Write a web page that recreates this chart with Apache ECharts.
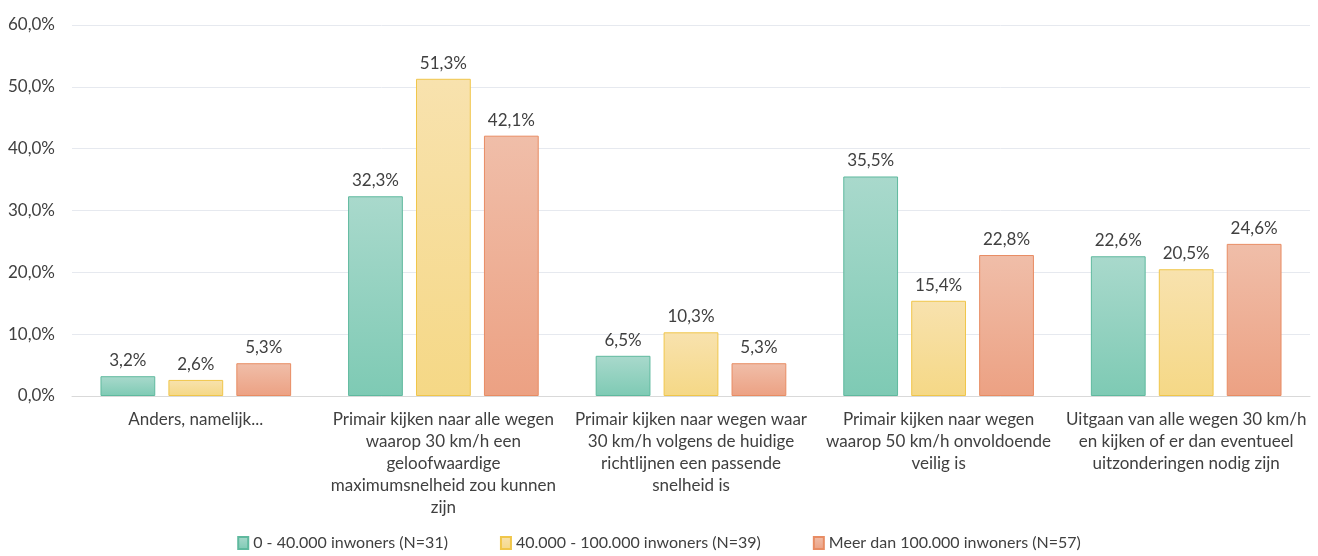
<!DOCTYPE html>
<html>
<head>
<meta charset="utf-8">
<script src="https://cdn.jsdelivr.net/npm/echarts@6/dist/echarts.min.js"></script>
<style>
html, body { margin: 0; padding: 0; background: #fff; }
#chart { width: 1318px; height: 556px; }
</style>
</head>
<body>
<div id="chart"></div>
<script>
// categorieen (met handmatige regelafbreking zoals in het origineel)
var categories = [
    'Anders, namelijk...',
    'Primair kijken naar alle wegen\nwaarop 30 km/h een\ngeloofwaardige\nmaximumsnelheid zou kunnen\nzijn',
    'Primair kijken naar wegen waar\n30 km/h volgens de huidige\nrichtlijnen een passende\nsnelheid is',
    'Primair kijken naar wegen\nwaarop 50 km/h onvoldoende\nveilig is',
    'Uitgaan van alle wegen 30 km/h\nen kijken of er dan eventueel\nuitzonderingen nodig zijn'
];

var seriesNames = ['0 - 40.000 inwoners (N=31)', '40.000 - 100.000 inwoners (N=39)', 'Meer dan 100.000 inwoners (N=57)'];

var klein = [3.2, 32.3, 6.5, 35.5, 22.6];
var middel = [2.6, 51.3, 10.3, 15.4, 20.5];
var groot = [5.3, 42.1, 5.3, 22.8, 24.6];

var yTicks = [0, 10, 20, 30, 40, 50, 60];

var font = 'Lato, "Noto Sans", sans-serif';
var textColor = '#404040';

function pct(v) {
    return v.toFixed(1).replace('.', ',') + '%';
}

function grad(top, bottom) {
    return new echarts.graphic.LinearGradient(0, 0, 0, 1, [
        {offset: 0, color: top},
        {offset: 1, color: bottom}
    ]);
}

var styles = [
    {color: grad('#a9d9cc', '#7ecab4'), borderColor: '#5fb99e'},
    {color: grad('#f8e2ae', '#f5d886'), borderColor: '#f0c64a'},
    {color: grad('#f0bea9', '#eca183'), borderColor: '#e88c63'}
];

var data = [klein, middel, groot];

var chart = echarts.init(document.getElementById('chart'));

var mySeries = [];
for (var i = 0; i < data.length; i++) {
    mySeries.push({
        name: seriesNames[i],
        type: 'bar',
        data: data[i],
        barGap: '24%',
        barCategoryGap: '23%',
        itemStyle: {
            color: styles[i].color,
            borderColor: styles[i].borderColor,
            borderWidth: 1
        },
        label: {
            show: true,
            position: 'top',
            distance: 7,
            color: textColor,
            fontFamily: font,
            fontSize: 17,
            formatter: function (p) { return pct(p.value); }
        }
    });
}

var option = {
    animation: false,
    backgroundColor: '#fff',
    textStyle: {fontFamily: font, color: textColor},
    grid: {
        left: 72,
        right: 8,
        top: 25,
        bottom: 160
    },
    legend: {
        bottom: 0,
        left: 'center',
        icon: 'rect',
        itemWidth: 10,
        itemHeight: 12,
        itemGap: 52,
        textStyle: {fontFamily: font, fontSize: 16, color: textColor},
        data: seriesNames
    },
    xAxis: {
        type: 'category',
        data: categories,
        axisLine: {lineStyle: {color: '#d9d9d9', width: 1}},
        axisTick: {show: false},
        axisLabel: {
            interval: 0,
            margin: 13,
            color: textColor,
            fontFamily: font,
            fontSize: 17,
            lineHeight: 22,
            align: 'center'
        }
    },
    yAxis: {
        type: 'value',
        min: yTicks[0],
        max: yTicks[yTicks.length - 1],
        interval: 10,
        axisLine: {show: false},
        axisTick: {show: false},
        splitLine: {lineStyle: {color: '#e6e9ef', width: 1}},
        axisLabel: {
            margin: 17,
            color: textColor,
            fontFamily: font,
            fontSize: 17,
            formatter: function (v) { return pct(v); }
        }
    },
    series: mySeries
};

chart.setOption(option);
</script>
</body>
</html>
